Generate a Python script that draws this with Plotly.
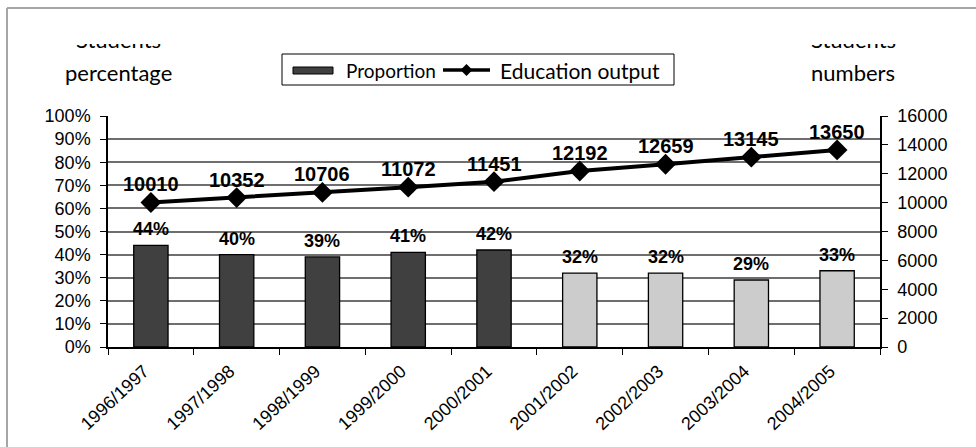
import plotly.graph_objects as go

# ---- data ----
categories = ["1996/1997", "1997/1998", "1998/1999", "1999/2000", "2000/2001",
              "2001/2002", "2002/2003", "2003/2004", "2004/2005"]
proportion = [44, 40, 39, 41, 42, 32, 32, 29, 33]          # percent
education_output = [10010, 10352, 10706, 11072, 11451, 12192, 12659, 13145, 13650]
pct_ticks = list(range(0, 101, 10))
num_ticks = list(range(0, 16001, 2000))
series_names = ["Proportion", "Education output"]

# ---- style ----
DARK = "#404040"
LIGHT = "#cccccc"
bar_fill = [DARK] * 5 + [LIGHT] * 4
W, H = 976, 447
ML, MR, MT, MB = 108, 96, 116, 100
PW, PH = W - ML - MR, H - MT - MB
TICKFONT = dict(family="Arial", size=18, color="black")
LABELFONT = "Arial"
TITLEFONT = dict(family="Lato", size=22, color="black")


def px_x(px):
    return (px - ML) / PW


def px_y(py):
    return (H - MB - py) / PH


fig = go.Figure()

fig.add_trace(go.Bar(
    x=categories, y=proportion, name=series_names[0],
    marker=dict(color=bar_fill, line=dict(color="black", width=1.3)),
    width=0.4, showlegend=False, yaxis="y", hoverinfo="skip",
))

fig.add_trace(go.Scatter(
    x=categories, y=education_output, name=series_names[1],
    mode="lines+markers", yaxis="y2",
    line=dict(color="black", width=4),
    marker=dict(symbol="diamond", size=16, color="black"),
    showlegend=False, hoverinfo="skip", cliponaxis=False,
))

annotations = []
for c, v in zip(categories, education_output):
    annotations.append(dict(
        x=c, y=v, xref="x", yref="y2", text=f"<b>{v}</b>", showarrow=False,
        yshift=18, yanchor="middle",
        font=dict(family=LABELFONT, size=20, color="black"),
    ))
for c, v in zip(categories, proportion):
    annotations.append(dict(
        x=c, y=v, xref="x", yref="y", text=f"<b>{v}%</b>", showarrow=False,
        yshift=16, yanchor="middle",
        font=dict(family=LABELFONT, size=18, color="black"),
    ))

# axis titles (top line partially clipped as in the reference)
for cx, word2 in [(118, "percentage"), (853, "numbers")]:
    annotations.append(dict(
        x=px_x(cx), y=px_y(72), xref="paper", yref="paper",
        text=word2, showarrow=False, xanchor="center", yanchor="middle",
        font=TITLEFONT,
    ))
    annotations.append(dict(
        x=px_x(cx), y=px_y(54), xref="paper", yref="paper",
        text="Students", showarrow=False, xanchor="center", yanchor="bottom",
        valign="bottom", height=9, borderpad=0,
        font=TITLEFONT,
    ))

# legend (drawn as a boxed key above the plot)
annotations.append(dict(x=px_x(344), y=px_y(70), xref="paper", yref="paper",
                        text=series_names[0], showarrow=False, xanchor="left",
                        yanchor="middle", font=dict(family="Lato", size=19, color="black")))
annotations.append(dict(x=px_x(498), y=px_y(70), xref="paper", yref="paper",
                        text=series_names[1], showarrow=False, xanchor="left",
                        yanchor="middle", font=dict(family="Lato", size=21, color="black")))

dx, dy = 6 / PW, 6 / PH
cxd, cyd = px_x(466.5), px_y(70)
shapes = [
    # outer chart frame (top and left edges visible)
    dict(type="line", xref="paper", yref="paper", x0=px_x(7), x1=px_x(W + 5),
         y0=px_y(8), y1=px_y(8), line=dict(color="#a6a6a6", width=2)),
    dict(type="line", xref="paper", yref="paper", x0=px_x(7), x1=px_x(7),
         y0=px_y(8), y1=px_y(H + 5), line=dict(color="#a6a6a6", width=2)),
    # legend box
    dict(type="rect", xref="paper", yref="paper", x0=px_x(282), x1=px_x(674),
         y0=px_y(54), y1=px_y(85), line=dict(color="black", width=1),
         fillcolor="white"),
    # legend swatches
    dict(type="rect", xref="paper", yref="paper", x0=px_x(293), x1=px_x(333),
         y0=px_y(67), y1=px_y(74), line=dict(color="black", width=1),
         fillcolor=DARK),
    dict(type="line", xref="paper", yref="paper", x0=px_x(443), x1=px_x(490),
         y0=px_y(70), y1=px_y(70), line=dict(color="black", width=3.5)),
    dict(type="path", xref="paper", yref="paper",
         path=f"M {cxd - dx} {cyd} L {cxd} {cyd + dy} L {cxd + dx} {cyd} L {cxd} {cyd - dy} Z",
         fillcolor="black", line=dict(color="black", width=0)),
]

fig.update_layout(
    width=W, height=H,
    margin=dict(l=ML, r=MR, t=MT, b=MB, pad=0),
    paper_bgcolor="white", plot_bgcolor="white",
    bargap=0.6,
    showlegend=False,
    xaxis=dict(
        type="category", categoryorder="array", categoryarray=categories,
        range=[-0.5, len(categories) - 0.5],
        showline=True, linecolor="black", linewidth=1.5,
        ticks="outside", tickson="boundaries", ticklen=6, tickcolor="black", tickwidth=1,
        tickangle=-43, tickfont=TICKFONT, showgrid=False, fixedrange=True,
        ticklabelshift=-7, ticklabelstandoff=5,
    ),
    yaxis=dict(
        range=[0, 100], tickmode="array", tickvals=pct_ticks,
        ticktext=[f"{t}%" for t in pct_ticks],
        showline=True, linecolor="black", linewidth=1.5,
        ticks="outside", ticklen=6, tickcolor="black",
        showgrid=True, gridcolor="#6e6e6e", gridwidth=1.5,
        zeroline=False, tickfont=TICKFONT, ticklabelstandoff=6, fixedrange=True,
    ),
    yaxis2=dict(
        range=[0, 16000], tickmode="array", tickvals=num_ticks,
        ticktext=[str(t) for t in num_ticks],
        overlaying="y", side="right",
        showline=True, linecolor="black", linewidth=1.5,
        ticks="outside", ticklen=6, tickcolor="black",
        showgrid=False, zeroline=False, tickfont=TICKFONT, ticklabelstandoff=6,
        fixedrange=True,
    ),
    annotations=annotations,
    shapes=shapes,
)

fig.write_html("out.html", config=dict(displayModeBar=False))
